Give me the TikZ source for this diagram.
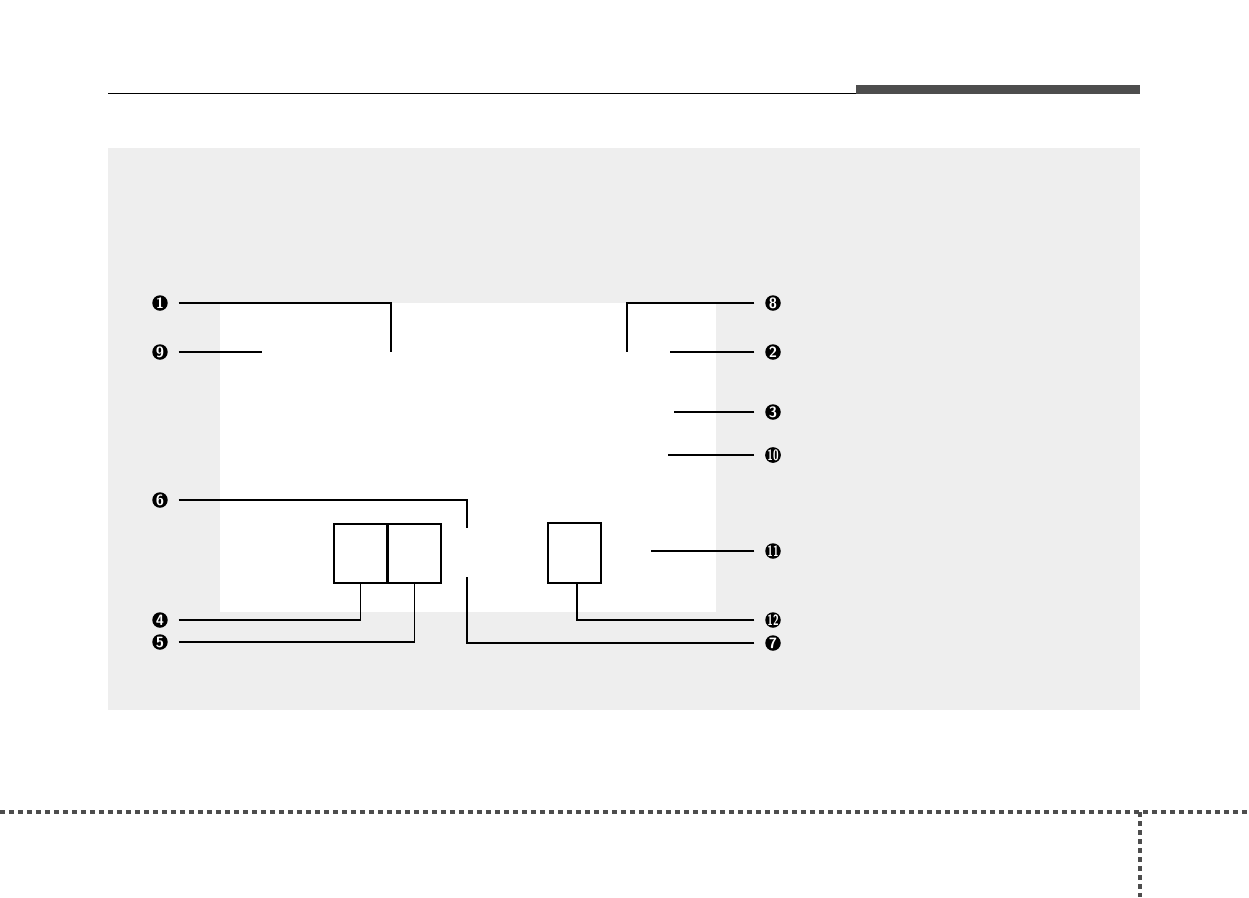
\documentclass[tikz,border=0pt]{standalone}
\usepackage{graphicx}
\definecolor{headgray}{HTML}{4D4D4D}
\definecolor{panelgray}{HTML}{EEEEEE}
\tikzset{
  callout/.style={circle, fill=black, text=white, inner sep=0pt, minimum size=0.31cm,
    outer sep=0.22cm, font=\fontsize{8.5}{8.5}\selectfont\sffamily\bfseries},
  leader/.style={line width=0.6pt},
  keybox/.style={draw, line width=0.6pt, fill=white, inner sep=0pt},
  footline/.style={line width=1.8pt, draw=headgray, dash pattern=on 0.1cm off 0.08cm}
}
\newcommand{\narrownum}[1]{\scalebox{0.68}[1]{#1}}
\begin{document}
\begin{tikzpicture}[x=0.02cm, y=-0.02cm]
  \useasboundingbox (0,0) rectangle (1249,897);

  % Header
  \draw[line width=0.6pt] (108,93.5) -- (856,93.5);
  \fill[headgray] (856,85) rectangle (1140,94);

  % Panels
  \fill[panelgray] (108,148) rectangle (1140,710);
  \fill[white] (220,303) rectangle (716,612);

  % Keys
  \node[keybox, minimum width=1.06cm, minimum height=1.18cm] (keyA) at (360.5,553.5) {};
  \node[keybox, minimum width=1.06cm, minimum height=1.18cm] (keyB) at (414.5,553.5) {};
  \node[keybox, minimum width=1.06cm, minimum height=1.2cm] (keyC) at (574.5,553) {};

  % Callouts
  \node[callout] (n1) at (160,303) {1};
  \node[callout] (n9) at (160,352) {9};
  \node[callout] (n6) at (160,500) {6};
  \node[callout] (n4) at (160,620) {4};
  \node[callout] (n5) at (160,642) {5};
  \node[callout] (n8) at (773,303) {8};
  \node[callout] (n2) at (773,352) {2};
  \node[callout] (n3) at (773,412) {3};
  \node[callout] (n10) at (773,455) {\narrownum{10}};
  \node[callout] (n11) at (773,551) {\narrownum{11}};
  \node[callout] (n12) at (773,620) {\narrownum{12}};
  \node[callout] (n7) at (773,643) {7};

  % Leader ends
  \coordinate (t1) at (391,352);
  \coordinate (t9) at (262,352);
  \coordinate (t6) at (467,528);
  \coordinate (t8) at (627,352);
  \coordinate (t2) at (670,352);
  \coordinate (t3) at (674,412);
  \coordinate (t10) at (668,455);
  \coordinate (t11) at (651,551);
  \coordinate (t12) at (577,583);
  \coordinate (t7) at (467,577);

  % Leaders
  \draw[leader] (n1) -| (t1);
  \draw[leader] (n9) -- (t9);
  \draw[leader] (n6) -| (t6);
  \draw[leader] (n4) -| (keyA.south);
  \draw[leader] (n5) -| (keyB.south);
  \draw[leader] (n8) -| (t8);
  \draw[leader] (n2) -- (t2);
  \draw[leader] (n3) -- (t3);
  \draw[leader] (n10) -- (t10);
  \draw[leader] (n11) -- (t11);
  \draw[leader] (n12) -| (t12);
  \draw[leader] (n7) -| (t7);

  % Footer
  \draw[footline] (0,812) -- (1249,812);
  \draw[footline] (1140,812) -- (1140,897);

\end{tikzpicture}
\end{document}
